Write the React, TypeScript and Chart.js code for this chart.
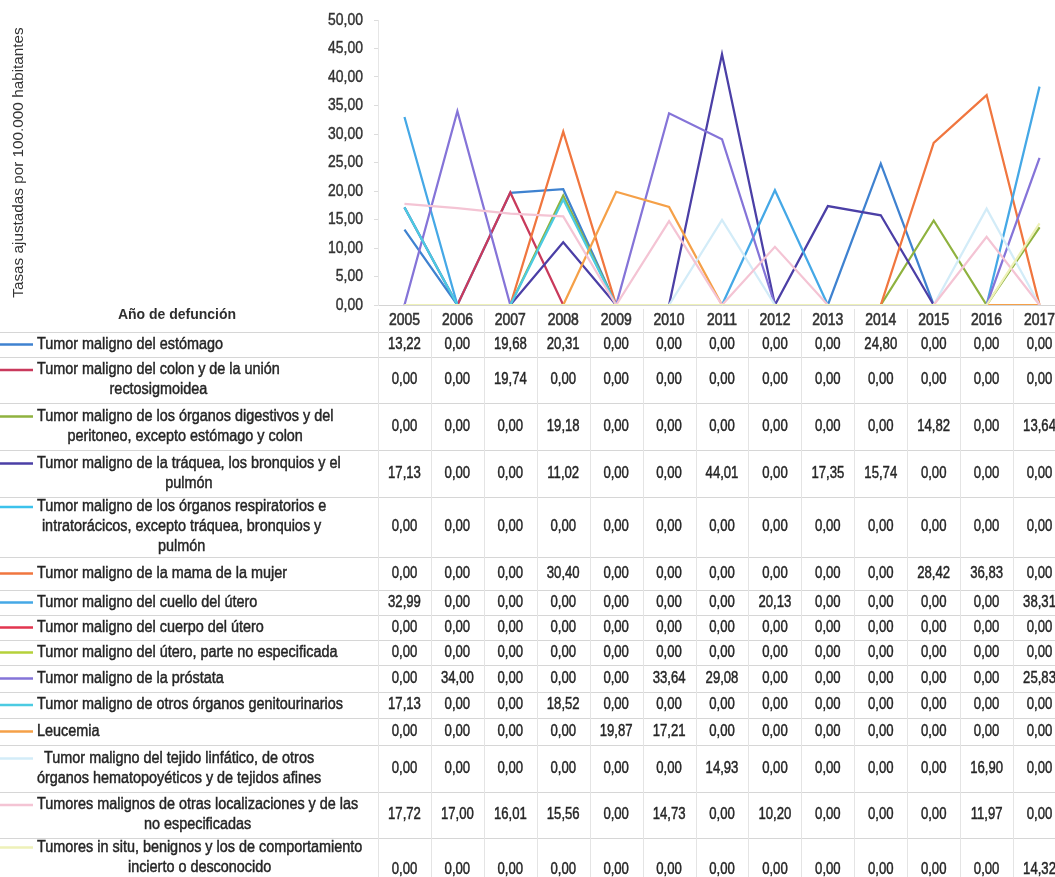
import React, { useEffect, useRef } from "react";
import { Chart, registerables } from "chart.js";

Chart.register(...registerables);

// ---------- DATA ----------
const years = ["2005", "2006", "2007", "2008", "2009", "2010", "2011", "2012", "2013", "2014", "2015", "2016", "2017"];

const yAxisTitle = "Tasas ajustadas por 100.000 habitantes";
const tableHeader = "Año de defunción";
const yTickMin = 0;
const yTickMax = 50;
const yTickStep = 5;

const estomago = [13.22, 0, 19.68, 20.31, 0, 0, 0, 0, 0, 24.8, 0, 0, 0];
const colon = [0, 0, 19.74, 0, 0, 0, 0, 0, 0, 0, 0, 0, 0];
const digestivos = [0, 0, 0, 19.18, 0, 0, 0, 0, 0, 0, 14.82, 0, 13.64];
const traquea = [17.13, 0, 0, 11.02, 0, 0, 44.01, 0, 17.35, 15.74, 0, 0, 0];
const respiratorios = [0, 0, 0, 0, 0, 0, 0, 0, 0, 0, 0, 0, 0];
const mama = [0, 0, 0, 30.4, 0, 0, 0, 0, 0, 0, 28.42, 36.83, 0];
const cuelloUtero = [32.99, 0, 0, 0, 0, 0, 0, 20.13, 0, 0, 0, 0, 38.31];
const cuerpoUtero = [0, 0, 0, 0, 0, 0, 0, 0, 0, 0, 0, 0, 0];
const uteroNoEsp = [0, 0, 0, 0, 0, 0, 0, 0, 0, 0, 0, 0, 0];
const prostata = [0, 34.0, 0, 0, 0, 33.64, 29.08, 0, 0, 0, 0, 0, 25.83];
const genitourinarios = [17.13, 0, 0, 18.52, 0, 0, 0, 0, 0, 0, 0, 0, 0];
const leucemia = [0, 0, 0, 0, 19.87, 17.21, 0, 0, 0, 0, 0, 0, 0];
const linfatico = [0, 0, 0, 0, 0, 0, 14.93, 0, 0, 0, 0, 16.9, 0];
const otras = [17.72, 17.0, 16.01, 15.56, 0, 14.73, 0, 10.2, 0, 0, 0, 11.97, 0];
const inSitu = [0, 0, 0, 0, 0, 0, 0, 0, 0, 0, 0, 0, 14.32];

const seriesLabelLines: string[][] = [
  ["Tumor maligno del estómago"],
  ["Tumor maligno del colon y de la unión", "rectosigmoidea"],
  ["Tumor maligno de los órganos digestivos y del", "peritoneo, excepto estómago y colon"],
  ["Tumor maligno de la tráquea, los bronquios y el", "pulmón"],
  ["Tumor maligno de los órganos respiratorios e", "intratorácicos, excepto tráquea, bronquios y", "pulmón"],
  ["Tumor maligno de la mama de la mujer"],
  ["Tumor maligno del cuello del útero"],
  ["Tumor maligno del cuerpo del útero"],
  ["Tumor maligno del útero, parte no especificada"],
  ["Tumor maligno de la próstata"],
  ["Tumor maligno de otros órganos genitourinarios"],
  ["Leucemia"],
  ["Tumor maligno del tejido linfático, de otros", "órganos hematopoyéticos y de tejidos afines"],
  ["Tumores malignos de otras localizaciones y de las", "no especificadas"],
  ["Tumores in situ, benignos y los de comportamiento", "incierto o desconocido"],
];

const seriesValues = [
  estomago, colon, digestivos, traquea, respiratorios, mama, cuelloUtero, cuerpoUtero,
  uteroNoEsp, prostata, genitourinarios, leucemia, linfatico, otras, inSitu,
];

const seriesColors = [
  "#3f82d0", "#c93a5c", "#8fb23f", "#4b3fa6", "#3cc2ec", "#f0763f", "#45a8e6", "#e2354f",
  "#b5d13a", "#8574d8", "#4ccbe2", "#f5a048", "#d3ecf8", "#f4c4d4", "#eef1b8",
];

// ---------- LAYOUT (not data) ----------
const CANVAS_W = 1068;
const VIEW_W = 1055;
const CANVAS_H = 877;
const PLOT_TOP = 20;
const PLOT_BOTTOM = 305;
const PLOT_LEFT = 378;
const HEADER_BOTTOM = 332;
const rowBounds = [332, 357, 403, 450, 497, 557, 590, 615, 640, 665, 692, 718, 745, 792, 838, 902];

const REGULAR = '"Liberation Sans", Arial, sans-serif';
const NARROW_SX = 0.82;
const LABEL_SX = 0.9;
const TEXT_COLOR = "#262626";

const fmt = (v: number) => v.toFixed(2).replace(".", ",");

function drawScaled(
  ctx: CanvasRenderingContext2D,
  text: string,
  x: number,
  y: number,
  font: string,
  sx: number,
  align: CanvasTextAlign,
  color: string,
  weight = 0.45
) {
  ctx.save();
  ctx.font = font;
  ctx.fillStyle = color;
  ctx.strokeStyle = color;
  ctx.lineWidth = weight;
  ctx.textAlign = align;
  ctx.textBaseline = "middle";
  ctx.scale(sx, 1);
  ctx.fillText(text, x / sx, y);
  if (weight > 0) ctx.strokeText(text, x / sx, y);
  ctx.restore();
}

const tablePlugin = {
  id: "dataTable",
  beforeDraw(chart: any) {
    const ctx = chart.ctx;
    ctx.save();
    ctx.fillStyle = "#ffffff";
    ctx.fillRect(0, 0, chart.width, chart.height);
    ctx.restore();
  },
  afterDraw(chart: any) {
    const ctx: CanvasRenderingContext2D = chart.ctx;
    const xs = chart.scales.x;
    const ys = chart.scales.y;
    const area = chart.chartArea;
    const colW = (area.right - area.left) / years.length;
    ctx.save();

    // y tick labels
    ys.ticks.forEach((t: any) => {
      drawScaled(ctx, fmt(t.value), 363, ys.getPixelForValue(t.value), `17px ${REGULAR}`, NARROW_SX, "right", "#333333");
    });
    // year labels
    years.forEach((yr, i) => {
      drawScaled(ctx, yr, xs.getPixelForValue(i), 320, `17px ${REGULAR}`, NARROW_SX, "center", "#333333", 0.6);
    });

    // horizontal row lines
    ctx.strokeStyle = "#d6d6d6";
    ctx.lineWidth = 1;
    for (let i = 0; i < rowBounds.length; i++) {
      const y = Math.round(rowBounds[i]) + 0.5;
      if (y > CANVAS_H) continue;
      ctx.beginPath();
      ctx.moveTo(0, y);
      ctx.lineTo(chart.width, y);
      ctx.stroke();
    }
    // vertical column lines
    ctx.strokeStyle = "#e4e4e4";
    for (let k = 0; k <= years.length; k++) {
      const x = Math.round(area.left + k * colW) + 0.5;
      ctx.beginPath();
      ctx.moveTo(x, area.bottom + 4);
      ctx.lineTo(x, CANVAS_H);
      ctx.stroke();
    }

    // header text
    ctx.fillStyle = "#2e2e2e";
    ctx.font = `bold 14px ${REGULAR}`;
    ctx.textAlign = "center";
    ctx.textBaseline = "middle";
    ctx.fillText(tableHeader, 177, 315);

    // rows
    for (let r = 0; r < seriesValues.length; r++) {
      const top = rowBounds[r];
      const bottom = rowBounds[r + 1];
      const valueY = (top + bottom) / 2;
      const labelCenter = (top + Math.min(bottom, CANVAS_H)) / 2;
      const lines = seriesLabelLines[r];
      const lh = 20;
      const firstY = labelCenter - ((lines.length - 1) * lh) / 2;

      // legend key
      ctx.strokeStyle = seriesColors[r];
      ctx.lineWidth = 2.5;
      ctx.beginPath();
      ctx.moveTo(0, firstY);
      ctx.lineTo(33, firstY);
      ctx.stroke();

      // label text
      const labelFont = `16px ${REGULAR}`;
      ctx.font = labelFont;
      let maxW = 0;
      lines.forEach((l) => (maxW = Math.max(maxW, ctx.measureText(l).width * LABEL_SX)));
      const cx = 37 + maxW / 2;
      lines.forEach((l, i) => drawScaled(ctx, l, cx, firstY + i * lh, labelFont, LABEL_SX, "center", TEXT_COLOR));

      // values
      seriesValues[r].forEach((v, i) => {
        drawScaled(ctx, fmt(v), xs.getPixelForValue(i), valueY, `16px ${REGULAR}`, NARROW_SX, "center", TEXT_COLOR);
      });
    }
    ctx.restore();
  },
};

export default function App() {
  const ref = useRef<HTMLCanvasElement | null>(null);

  useEffect(() => {
    document.body.style.margin = "0";
    const canvas = ref.current!;
    const n = seriesValues.length;
    const chart = new Chart(canvas, {
      type: "line",
      data: {
        labels: years,
        datasets: seriesValues.map((vals, i) => ({
          label: seriesLabelLines[i].join(" "),
          data: vals,
          borderColor: seriesColors[i],
          backgroundColor: seriesColors[i],
          borderWidth: 2.25,
          pointRadius: 0,
          tension: 0,
          fill: false,
          order: n - i,
        })),
      },
      options: {
        responsive: false,
        animation: false,
        devicePixelRatio: 1,
        layout: {
          padding: { top: PLOT_TOP, right: CANVAS_W - 1066, bottom: CANVAS_H - HEADER_BOTTOM, left: 0 },
        },
        plugins: {
          legend: { display: false },
          tooltip: { enabled: false },
          title: { display: false },
        },
        scales: {
          x: {
            type: "category",
            offset: true,
            grid: { display: false, drawTicks: false },
            border: { display: true, color: "#d4d4d4", width: 1 },
            ticks: { display: false, autoSkip: false },
            afterFit: (scale: any) => {
              scale.height = HEADER_BOTTOM - PLOT_BOTTOM;
            },
          },
          y: {
            min: yTickMin,
            max: yTickMax,
            grid: { display: true, drawOnChartArea: false, tickLength: 4, color: "#dcdcdc" },
            border: { display: true, color: "#e6e6e6" },
            ticks: { display: false, stepSize: yTickStep },
            title: {
              display: true,
              text: yAxisTitle,
              color: "#333333",
              font: { family: REGULAR, size: 15.3 },
              padding: { top: 10, bottom: 4 },
            },
            afterFit: (scale: any) => {
              scale.width = PLOT_LEFT;
            },
          },
        },
      },
      plugins: [tablePlugin],
    });
    return () => chart.destroy();
  }, []);

  return (
    <div style={{ width: VIEW_W, height: CANVAS_H, overflow: "hidden", background: "#fff" }}>
      <canvas ref={ref} width={CANVAS_W} height={CANVAS_H} style={{ display: "block" }} />
    </div>
  );
}
